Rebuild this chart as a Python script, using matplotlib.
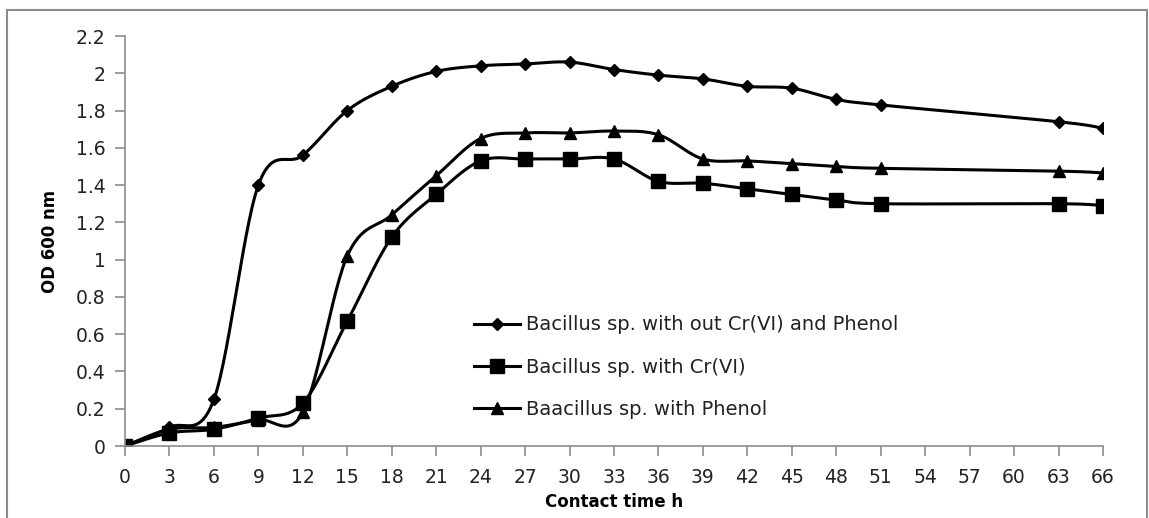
import matplotlib
matplotlib.use("Agg")
import matplotlib.pyplot as plt
import matplotlib.patches as mpatches
import numpy as np

# category axis (Excel-style): every 3 h from 0 to 66
hours = [0, 3, 6, 9, 12, 15, 18, 21, 24, 27, 30, 33, 36, 39, 42, 45, 48, 51, 54, 57, 60, 63, 66]

# measured time points (no readings at 54, 57, 60 h)
t_meas = [0, 3, 6, 9, 12, 15, 18, 21, 24, 27, 30, 33, 36, 39, 42, 45, 48, 51, 63, 66]

od_control = [0, 0.10, 0.25, 1.40, 1.56, 1.80, 1.93, 2.01, 2.04, 2.05, 2.06, 2.02,
              1.99, 1.97, 1.93, 1.92, 1.86, 1.83, 1.74, 1.705]
od_cr = [0, 0.07, 0.09, 0.15, 0.23, 0.67, 1.12, 1.35, 1.53, 1.54, 1.54, 1.54,
         1.42, 1.41, 1.38, 1.35, 1.32, 1.30, 1.30, 1.29]
od_phenol = [0, 0.09, 0.10, 0.14, 0.18, 1.02, 1.24, 1.45, 1.65, 1.68, 1.68, 1.69,
             1.67, 1.54, 1.53, 1.515, 1.50, 1.49, 1.475, 1.465]

y_ticks = [0, 0.2, 0.4, 0.6, 0.8, 1, 1.2, 1.4, 1.6, 1.8, 2, 2.2]
y_ticklabels = ["0", "0.2", "0.4", "0.6", "0.8", "1", "1.2", "1.4", "1.6", "1.8", "2", "2.2"]

labels = ["Bacillus sp. with out Cr(VI) and Phenol",
          "Bacillus sp. with Cr(VI)",
          "Baacillus sp. with Phenol"]
markers = ["D", "s", "^"]
msizes = [6.5, 9.5, 8.5]

INK = "#000000"
AXIS = "#8c8c8c"
TXT = "#222222"


def smooth(x, y, n=30):
    # Catmull-Rom style smoothing, roughly what Excel does for "smoothed line"
    x = np.asarray(x, float)
    y = np.asarray(y, float)
    px = np.concatenate([[x[0]], x, [x[-1]]])
    py = np.concatenate([[y[0]], y, [y[-1]]])
    xs, ys = [], []
    s = np.linspace(0, 1, n)
    for i in range(1, len(px) - 2):
        p0 = np.array([px[i - 1], py[i - 1]])
        p1 = np.array([px[i], py[i]])
        p2 = np.array([px[i + 1], py[i + 1]])
        p3 = np.array([px[i + 2], py[i + 2]])
        c1 = p1 + (p2 - p0) / 6.0
        c2 = p2 - (p3 - p1) / 6.0
        b = ((1 - s) ** 3)[:, None] * p1 + (3 * (1 - s) ** 2 * s)[:, None] * c1 \
            + (3 * (1 - s) * s ** 2)[:, None] * c2 + (s ** 3)[:, None] * p2
        xs.append(b[:, 0])
        ys.append(b[:, 1])
    return np.concatenate(xs), np.concatenate(ys)


plt.rcParams.update({
    "font.family": ["DejaVu Sans"],
    "font.size": 13,
})

fig = plt.figure(figsize=(11.49, 5.18), dpi=100)
W, H = 1149, 518
ax = fig.add_axes([125 / W, 1 - 446 / H, (1103 - 125) / W, (446 - 36) / H])

# outer chart border
fig.patches.append(mpatches.Rectangle((7 / W, -0.02), (1147 - 7) / W, 1 - 10 / H + 0.02,
                                      transform=fig.transFigure, fill=False,
                                      edgecolor=AXIS, linewidth=1.5))

pos = [hours.index(t) for t in t_meas]
for vals, lab, mk, ms in zip([od_control, od_cr, od_phenol], labels, markers, msizes):
    sx, sy = smooth(pos, vals)
    ax.plot(sx, sy, color=INK, lw=2.2, solid_capstyle="round")
    ax.plot(pos, vals, linestyle="none", marker=mk, ms=ms, color=INK)
    # legend proxy
    ax.plot([], [], color=INK, lw=2.2, marker=mk, ms=ms, label=lab)

ax.set_xlim(0, len(hours) - 1)
ax.set_ylim(0, 2.2)
ax.set_xticks(range(len(hours)))
ax.set_xticklabels([str(h) for h in hours])
ax.set_yticks(y_ticks)
ax.set_yticklabels(y_ticklabels)

for s in ["top", "right"]:
    ax.spines[s].set_visible(False)
for s in ["left", "bottom"]:
    ax.spines[s].set_color(AXIS)
    ax.spines[s].set_linewidth(1.2)
ax.tick_params(axis="both", colors=AXIS, length=7, width=1.2, labelcolor=TXT, labelsize=13.5)
ax.tick_params(axis="x", pad=9)
ax.tick_params(axis="y", pad=7)

ax.set_xlabel("Contact time h", fontweight="bold", fontsize=12, labelpad=4)
ax.set_ylabel("OD 600 nm", fontweight="bold", fontsize=12, labelpad=12)

leg = ax.legend(loc="upper left", bbox_to_anchor=(456 / W, 1 - 298 / H),
                bbox_transform=fig.transFigure, frameon=False, fontsize=14,
                handlelength=2.4, handletextpad=0.3, labelspacing=1.2)
for t in leg.get_texts():
    t.set_color(TXT)

fig.savefig("out.png", dpi=100)
